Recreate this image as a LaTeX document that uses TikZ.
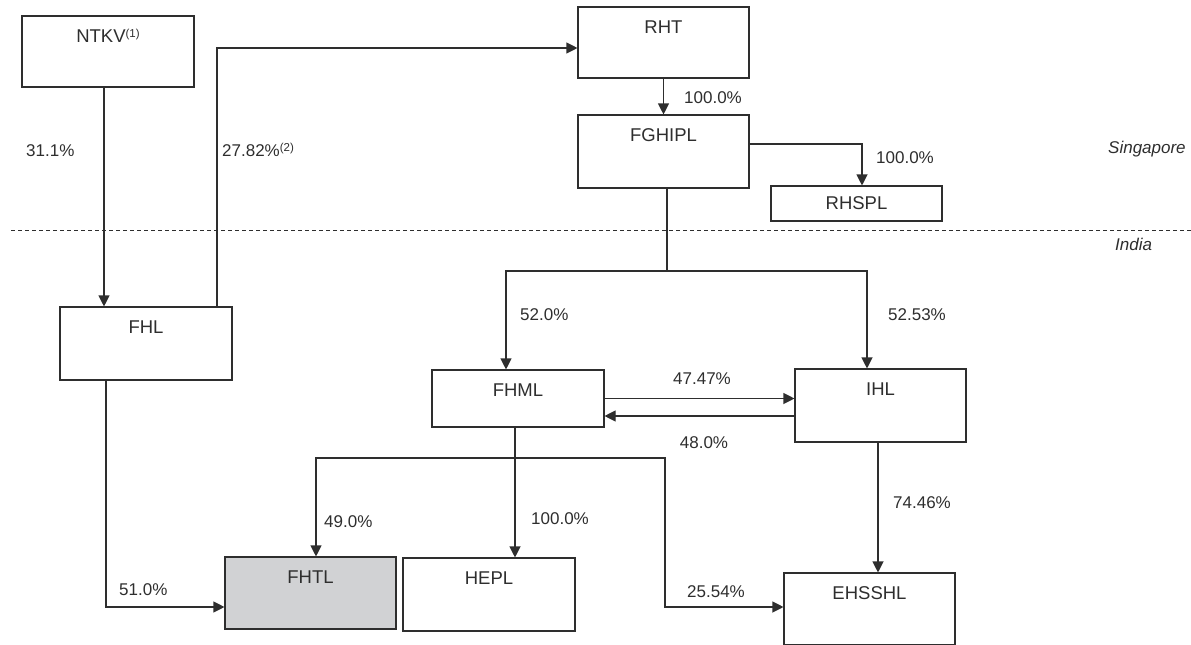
\documentclass[tikz,border=0pt]{standalone}
\usepackage{fontspec}
\setmainfont{Liberation Sans}
\usetikzlibrary{arrows.meta}
\definecolor{ink}{HTML}{2E2E2E}
\definecolor{shade}{HTML}{D1D2D4}
\newcommand{\supnote}[1]{\raisebox{5pt}{\fontsize{11.5}{12}\selectfont(#1)}}
\begin{document}
\begin{tikzpicture}[x=1pt,y=-1pt,
  font=\fontsize{17}{20}\selectfont, text=ink,
  box/.style={draw=ink, line width=1.1pt, inner sep=0pt, font=\fontsize{18.5}{22}\selectfont},
  boxtext/.style={anchor=base, yshift=-27pt, inner sep=0pt, font=\fontsize{18.5}{22}\selectfont},
  pct/.style={anchor=west, inner sep=0pt},
  conn/.style={draw=ink, line width=1.1pt},
  arr/.style={conn, -{Triangle[length=11pt,width=11pt]}},
  region/.style={anchor=west, inner sep=0pt, font=\fontsize{17}{20}\selectfont\itshape}
]
\useasboundingbox (0,0) rectangle (1191,645);

% divider
\draw[ink, line width=0.9pt, dash pattern=on 4pt off 3pt] (11,230) -- (1191,230);
\node[region] (sg) at (1108,149) {Singapore};
\node[region] (in) at (1115,244) {India};

% boxes
\node[box, minimum width=172pt, minimum height=71pt,
  label={[boxtext]north:NTKV\supnote{1}}] (ntkv) at (108,51.5) {};
\node[box, minimum width=171pt, minimum height=71pt,
  label={[boxtext]north:RHT}] (rht) at (663.5,42.5) {};
\node[box, minimum width=171pt, minimum height=73pt,
  label={[boxtext]north:FGHIPL}] (fghipl) at (663.5,151.5) {};
\node[box, minimum width=171pt, minimum height=35pt] (rhspl) at (856.5,203.5) {RHSPL};
\node[box, minimum width=172pt, minimum height=73pt,
  label={[boxtext]north:FHL}] (fhl) at (146,343.5) {};
\node[box, minimum width=172pt, minimum height=57pt,
  label={[boxtext]north:FHML}] (fhml) at (518,398.5) {};
\node[box, minimum width=171pt, minimum height=73pt,
  label={[boxtext]north:IHL}] (ihl) at (880.5,405.5) {};
\node[box, fill=shade, minimum width=171pt, minimum height=72pt,
  label={[boxtext]north:FHTL}] (fhtl) at (310.5,593) {};
\node[box, minimum width=172pt, minimum height=73pt,
  label={[boxtext]north:HEPL}] (hepl) at (489,594.5) {};
\node[box, minimum width=171pt, minimum height=72pt,
  label={[boxtext]north:EHSSHL}] (ehsshl) at (869.5,609) {};

% connectors
\draw[arr] ([xshift=-4pt]ntkv.south) -- ([xshift=-4pt]ntkv.south |- fhl.north);
\node[pct] (l311) at (26,151) {31.1\%};

\draw[arr] ([xshift=71pt]fhl.north) |- ([yshift=-5.5pt]rht.west);
\node[pct] (l2782) at (222,150) {27.82\%\supnote{2}};

\draw[arr] (rht.south) -- (fghipl.north);
\node[pct] (l100a) at (684,98) {100.0\%};

\draw[arr] ([yshift=7.5pt]fghipl.east) -| ([xshift=5.5pt]rhspl.north);
\node[pct] (l100b) at (876,158) {100.0\%};

\coordinate (j1) at (667,271);
\draw[conn] ([xshift=3.5pt]fghipl.south) -- (j1);
\draw[arr] (j1) -| ([xshift=-12pt]fhml.north);
\draw[arr] (j1) -| ([xshift=-13.5pt]ihl.north);
\node[pct] (l520) at (520,315) {52.0\%};
\node[pct] (l5253) at (888,315) {52.53\%};

\draw[arr] (fhml.east) -- (fhml.east -| ihl.west);
\node[anchor=center, inner sep=0pt] (l4747) at (702,379) {47.47\%};
\draw[arr] ([yshift=-17.5pt]fhml.east -| ihl.west) -- ([yshift=-17.5pt]fhml.east);
\node[anchor=center, inner sep=0pt] (l480) at (704,443) {48.0\%};

\draw[arr] ([xshift=-3pt]fhml.south) -- ([xshift=-3pt]fhml.south |- hepl.north);
\node[pct] (l100c) at (531,519) {100.0\%};

\coordinate (j2) at (515,458);
\coordinate (j3) at (665,458);
\draw[arr] (j2) -| ([xshift=5.5pt]fhtl.north);
\node[pct] (l490) at (324,522) {49.0\%};
\draw[arr] (j2) -- (j3) |- ([yshift=2pt]ehsshl.west);
\node[pct] (l2554) at (687,592) {25.54\%};

\draw[arr] ([xshift=-40pt]fhl.south) |- ([yshift=-14pt]fhtl.west);
\node[pct] (l510) at (119,590) {51.0\%};

\draw[arr] ([xshift=-2.5pt]ihl.south) -- ([xshift=-2.5pt]ihl.south |- ehsshl.north);
\node[pct] (l7446) at (893,503) {74.46\%};
\end{tikzpicture}
\end{document}
